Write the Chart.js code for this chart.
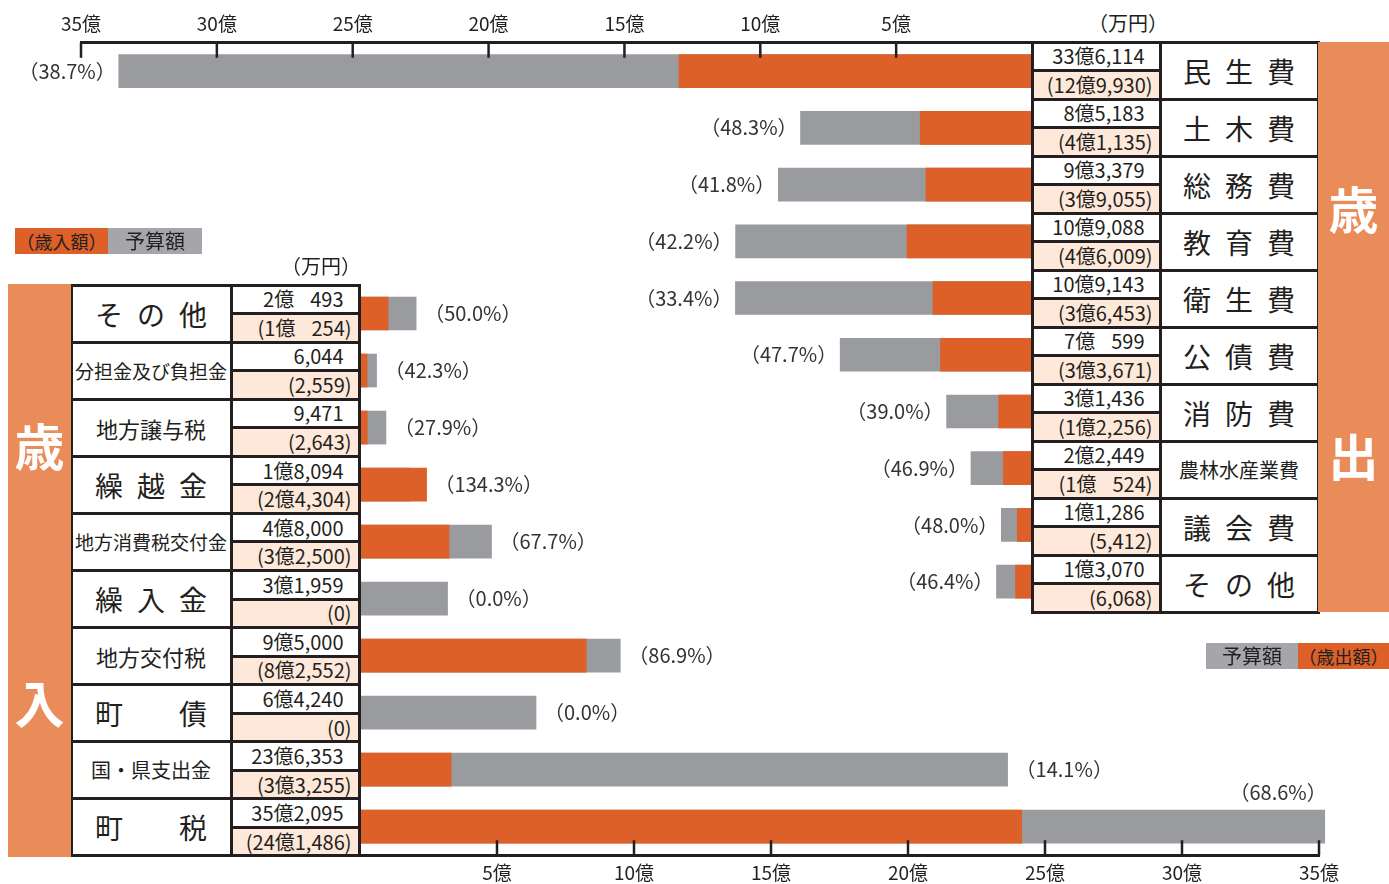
<!DOCTYPE html>
<html lang="ja">
<head>
<meta charset="utf-8">
<script src="https://cdn.jsdelivr.net/npm/chart.js@4.4.1/dist/chart.umd.min.js"></script>
<style>
  body { margin: 0; background: #fff; font-family: "Noto Sans CJK JP", sans-serif; color: #231f20; }
  #page { position: relative; width: 1389px; height: 884px; overflow: hidden; }
  canvas { position: absolute; }
  .cell { position: absolute; box-sizing: border-box; border: 3px solid #231f20; display: flex; align-items: center; white-space: nowrap; line-height: 1; }
  .band { position: absolute; background: #e98c59; }
  .band span { position: absolute; left: 0; right: 0; text-align: center; color: #fff; font-weight: bold; font-size: 50px; line-height: 1; }
  .lg { position: absolute; height: 26px; line-height: 26px; font-size: 19px; text-align: center; color: #231f20; }
  .unit { position: absolute; font-size: 19px; line-height: 1; }
</style>
</head>
<body>
<div id="page">
  <canvas id="outChart" style="left:0;top:0" width="1040" height="620"></canvas>
  <canvas id="inChart" style="left:300px;top:270px" width="1089" height="620"></canvas>
</div>
<script>
// 歳出 (expenditure), values in 万円
const outNames = ['民生費', '土木費', '総務費', '教育費', '衛生費', '公債費', '消防費', '農林水産業費', '議会費', 'その他'];
const outBudget = [336114, 85183, 93379, 109088, 109143, 70599, 31436, 22449, 11286, 13070];
const outActual = [129930, 41135, 39055, 46009, 36453, 33671, 12256, 10524, 5412, 6068];
const outPct = [38.7, 48.3, 41.8, 42.2, 33.4, 47.7, 39.0, 46.9, 48.0, 46.4];

// 歳入 (revenue), values in 万円
const inNames = ['その他', '分担金及び負担金', '地方譲与税', '繰越金', '地方消費税交付金', '繰入金', '地方交付税', '町債', '国・県支出金', '町税'];
const inBudget = [20493, 6044, 9471, 18094, 48000, 31959, 95000, 64240, 236353, 352095];
const inActual = [10254, 2559, 2643, 24304, 32500, 0, 82552, 0, 33255, 241486];
const inPct = [50.0, 42.3, 27.9, 134.3, 67.7, 0.0, 86.9, 0.0, 14.1, 68.6];

const axisTicks = [0, 5, 10, 15, 20, 25, 30, 35];

const ORANGE = '#dc6027';
const GRAY = '#9a9b9f';
const PEACH = '#fde8da';
const INK = '#231f20';
const FONT = '"Noto Sans CJK JP", sans-serif';

const page = document.getElementById('page');

// 33億6,114 style text
function man(v) {
    const oku = Math.floor(v / 10000);
    const rest = v % 10000;
    const r = rest.toLocaleString('en-US');
    if (oku === 0) return r;
    const gap = rest < 1000 ? '<span style="display:inline-block;width:0.8em"></span>' : '';
    return oku + '億' + gap + r;
}

function nameHtml(name) {
    if (name.length === 2) return name[0] + '　　' + name[1];
    if (name.length === 3) return '<span style="letter-spacing:0.5em;padding-left:0.5em">' + name + '</span>';
    return name;
}

function nameSize(name) {
    if (name.length >= 8) return 19;
    if (name.length >= 6) return 20;
    if (name.length >= 4) return 22;
    return 28;
}

function cell(x, y, w, h, bg, html, align, size, padRight) {
    const d = document.createElement('div');
    d.className = 'cell';
    d.style.left = (x - 1.5) + 'px';
    d.style.top = (y - 1.5) + 'px';
    d.style.width = (w + 3) + 'px';
    d.style.height = (h + 3) + 'px';
    d.style.background = bg;
    d.style.fontSize = size + 'px';
    d.style.justifyContent = align === 'right' ? 'flex-end' : 'center';
    if (padRight) d.style.paddingRight = padRight + 'px';
    d.innerHTML = html;
    page.appendChild(d);
}

function buildTable(t, names, budget, actual) {
    names.forEach((name, i) => {
        const y = t.top + i * t.rowH;
        cell(t.nameX, y, t.nameW, t.rowH, '#fff', nameHtml(name), 'center', nameSize(name));
        cell(t.valX, y, t.valW, t.rowH / 2, '#fff', man(budget[i]), 'right', 20, 14);
        cell(t.valX, y + t.rowH / 2, t.valW, t.rowH / 2, PEACH, '(' + man(actual[i]) + ')', 'right', 20, 6);
    });
}

function addDiv(cls, style, html) {
    const d = document.createElement('div');
    d.className = cls;
    d.setAttribute('style', style);
    d.innerHTML = html;
    page.appendChild(d);
}

// draws tick marks pointing into the plot area
const tickMarks = {
    id: 'tickMarks',
    afterDraw(chart, args, opts) {
        const { ctx, chartArea } = chart;
        const x = chart.scales.x;
        ctx.save();
        ctx.strokeStyle = INK;
        ctx.lineWidth = 2.5;
        axisTicks.forEach(v => {
            if (v === 0) return;
            const px = x.getPixelForValue(v);
            const y0 = opts.top ? chartArea.top : chartArea.bottom;
            const y1 = opts.top ? y0 + 15 : y0 - 15;
            ctx.beginPath();
            ctx.moveTo(px, y0);
            ctx.lineTo(px, y1);
            ctx.stroke();
        });
        ctx.restore();
    }
};

// percent labels next to the bars
const pctLabels = {
    id: 'pctLabels',
    afterDatasetsDraw(chart, args, opts) {
        const { ctx } = chart;
        const a = chart.getDatasetMeta(0).data;
        const b = chart.getDatasetMeta(1).data;
        ctx.save();
        ctx.font = '20px ' + FONT;
        ctx.fillStyle = '#333';
        ctx.textBaseline = 'middle';
        opts.values.forEach((p, i) => {
            const txt = '（' + p.toFixed(1) + '%）';
            if (opts.left) {
                const end = Math.min(a[i].x, b[i].x);
                ctx.textAlign = 'right';
                ctx.fillText(txt, end - 3, a[i].y);
            } else {
                const end = Math.max(a[i].x, b[i].x);
                const w = ctx.measureText(txt).width;
                if (end + 8 + w > chart.width) {
                    ctx.textAlign = 'right';
                    ctx.fillText(txt, end + 2, a[i].y - 34);
                } else {
                    ctx.textAlign = 'left';
                    ctx.fillText(txt, end + 8, a[i].y);
                }
            }
        });
        ctx.restore();
    }
};

function makeChart(id, names, budget, actual, pct, top) {
    return new Chart(document.getElementById(id), {
        type: 'bar',
        data: {
            labels: names,
            datasets: [
                { label: '決算額', data: actual.map(v => v / 10000), backgroundColor: ORANGE, grouped: false, barThickness: 33, clip: false },
                { label: '予算額', data: budget.map(v => v / 10000), backgroundColor: GRAY, grouped: false, barThickness: 33, clip: false }
            ]
        },
        options: {
            indexAxis: 'y',
            responsive: false,
            animation: false,
            layout: {
                padding: top ? { left: 81, right: 8, top: 4, bottom: 10 } : { left: 60, right: 70, top: 15, bottom: 0 }
            },
            scales: {
                x: {
                    position: top ? 'top' : 'bottom',
                    reverse: top,
                    min: 0,
                    max: 35,
                    afterBuildTicks: scale => { scale.ticks = axisTicks.map(v => ({ value: v })); },
                    ticks: {
                        callback: v => v === 0 ? '' : v + '億',
                        font: { family: FONT, size: 19 },
                        color: INK,
                        padding: top ? 8 : 6,
                        maxRotation: 0
                    },
                    grid: { display: false, drawTicks: false },
                    border: { color: INK, width: 3 }
                },
                y: { display: false }
            },
            plugins: {
                legend: { display: false },
                tooltip: { enabled: false },
                tickMarks: { top: top },
                pctLabels: { values: pct, left: top }
            }
        },
        plugins: [tickMarks, pctLabels]
    });
}

makeChart('outChart', outNames, outBudget, outActual, outPct, true);
makeChart('inChart', inNames, inBudget, inActual, inPct, false);

// tables
buildTable({ top: 42, rowH: 57, valX: 1032, valW: 128, nameX: 1160, nameW: 158 }, outNames, outBudget, outActual);
buildTable({ top: 285, rowH: 57.1, nameX: 71, nameW: 160, valX: 231, valW: 128 }, inNames, inBudget, inActual);

// side bands
addDiv('band', 'left:1318px;top:42px;width:71px;height:570px', '<span style="top:140px">歳</span><span style="top:387px">出</span>');
addDiv('band', 'left:8px;top:284px;width:63px;height:573px', '<span style="top:135px">歳</span><span style="top:392px">入</span>');

// units
addDiv('unit', 'left:1088px;top:13px;font-size:20px', '（万円）');
addDiv('unit', 'left:281px;top:256px;font-size:20px', '（万円）');

// legends
addDiv('lg', 'left:15px;top:228px;width:93px;background:' + ORANGE + ';font-size:18px', '（歳入額）');
addDiv('lg', 'left:108px;top:228px;width:94px;background:#a5a6aa;font-size:20px', '予算額');
addDiv('lg', 'left:1206px;top:643px;width:92px;background:#a5a6aa;font-size:20px', '予算額');
addDiv('lg', 'left:1298px;top:643px;width:91px;background:' + ORANGE + ';font-size:18px', '（歳出額）');
</script>
</body>
</html>
